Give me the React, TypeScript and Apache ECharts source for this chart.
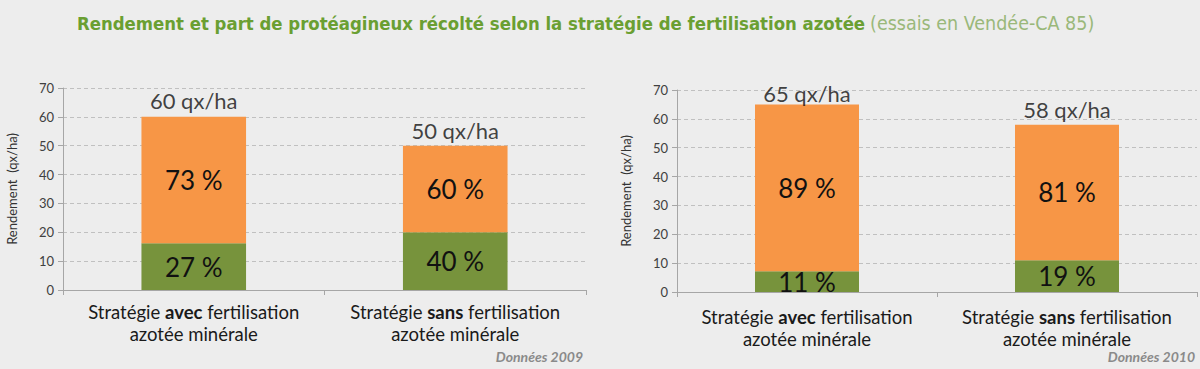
import React, { useEffect, useRef } from "react";
import * as echarts from "echarts";

const categories = [
  "Stratégie avec fertilisation azotée minérale",
  "Stratégie sans fertilisation azotée minérale",
];
const yTicks = [0, 10, 20, 30, 40, 50, 60, 70];

// 2009
const totals2009 = [60, 50];
const green2009 = [16.2, 20];
const orange2009 = [43.8, 30];
const greenPct2009 = [27, 40];
const orangePct2009 = [73, 60];

// 2010
const totals2010 = [65, 58];
const green2010 = [7.2, 11];
const orange2010 = [57.8, 47];
const greenPct2010 = [11, 19];
const orangePct2010 = [89, 81];

const GREEN = "#77933c";
const ORANGE = "#f79646";
const FONT = "Lato";

export default function App() {
  const ref = useRef<HTMLDivElement>(null);
  useEffect(() => {
    if (!ref.current) return;
    const chart = echarts.init(ref.current, null, { renderer: "svg" });

    const catFormatter = (v: string) => {
      const m = v.match(/^(\S+) (avec|sans) (\S+) (.*)$/);
      if (!m) return v;
      return `{n|${m[1]} }{b|${m[2]}}{n| ${m[3]}}\n{n|${m[4]}}`;
    };

    const xAxisBase = (gi: number, margin: number) => ({
      type: "category",
      gridIndex: gi,
      data: categories,
      axisLine: { lineStyle: { color: "#a6a6a6" } },
      axisTick: { show: true, lineStyle: { color: "#a6a6a6" }, length: 5 },
      axisLabel: {
        margin,
        formatter: catFormatter,
        rich: {
          n: { fontFamily: FONT, fontSize: 18.5, color: "#1a1a1a", lineHeight: 22 },
          b: { fontFamily: FONT, fontSize: 18.5, fontWeight: "bold", color: "#1a1a1a", lineHeight: 22 },
        },
      },
    });

    const yAxisBase = (gi: number) => ({
      type: "value",
      gridIndex: gi,
      min: yTicks[0],
      max: yTicks[yTicks.length - 1],
      interval: 10,
      name: "Rendement  (qx/ha)",
      nameLocation: "middle",
      nameGap: 45,
      nameTextStyle: { fontFamily: FONT, fontSize: 13, color: "#333" },
      axisLine: { show: true, lineStyle: { color: "#a6a6a6" } },
      axisTick: { show: true, length: 5, lineStyle: { color: "#a6a6a6" } },
      axisLabel: { fontFamily: FONT, fontSize: 13, color: "#404040", margin: 9 },
      splitLine: { show: true, lineStyle: { color: "#c0c0c0", type: [4, 3] } },
    });

    const pctLabel = (pcts: number[]) => ({
      show: true,
      position: "inside",
      fontFamily: FONT,
      fontSize: 26,
      color: "#111",
      formatter: (p: any) => `${pcts[p.dataIndex]} %`,
    });

    const barSeries = (gi: number, green: number[], orange: number[], gp: number[], op: number[]) => [
      {
        type: "bar",
        xAxisIndex: gi,
        yAxisIndex: gi,
        stack: "s" + gi,
        barWidth: "40%",
        data: green,
        itemStyle: { color: GREEN },
        label: pctLabel(gp),
      },
      {
        type: "bar",
        xAxisIndex: gi,
        yAxisIndex: gi,
        stack: "s" + gi,
        barWidth: "40%",
        data: orange,
        itemStyle: { color: ORANGE },
        label: pctLabel(op),
      },
    ];

    const totalSeries = (gi: number, totals: number[], distances: number[]) => ({
      type: "scatter",
      xAxisIndex: gi,
      yAxisIndex: gi,
      symbolSize: 0,
      silent: true,
      data: totals.map((v, i) => ({
        value: v,
        label: { distance: distances[i] },
      })),
      label: {
        show: true,
        position: "top",
        fontFamily: FONT,
        fontSize: 22,
        color: "#111",
        formatter: (p: any) => `${totals[p.dataIndex]} qx/ha`,
      },
    });

    const footnote = (text: string, right: number) => ({
      type: "text",
      right,
      top: 349,
      style: { text, fontFamily: FONT, fontStyle: "italic", fontWeight: "bold", fontSize: 14, fill: "#8a8a8a" },
    });

    chart.setOption({
      animation: false,
      backgroundColor: "#ededed",
      title: {
        text: "{b|Rendement et part de protéagineux récolté selon la stratégie de fertilisation azotée} {n|(essais en Vendée-CA 85)}",
        left: 72,
        top: 8,
        textStyle: {
          rich: {
            b: { fontFamily: "DejaVu Sans Condensed", fontWeight: "bold", fontSize: 18.4, color: "#6a9f32" },
            n: { fontFamily: "DejaVu Sans Condensed", fontWeight: "normal", fontSize: 19.5, color: "#9ab87a" },
          },
        },
      },
      grid: [
        { left: 63, right: 614, top: 88, bottom: 79 },
        { left: 677, right: 3, top: 90, bottom: 77 },
      ],
      xAxis: [xAxisBase(0, 11), xAxisBase(1, 14)],
      yAxis: [yAxisBase(0), yAxisBase(1)],
      series: [
        ...barSeries(0, green2009, orange2009, greenPct2009, orangePct2009),
        ...barSeries(1, green2010, orange2010, greenPct2010, orangePct2010),
        totalSeries(0, totals2009, [5, 4]),
        totalSeries(1, totals2010, [0, 4]),
      ],
      graphic: [footnote("Données 2009", 1200 - 583), footnote("Données 2010", 5)],
    });
    return () => chart.dispose();
  }, []);

  return (
    <div
      ref={ref}
      style={{ position: "absolute", left: 0, top: 0, width: 1200, height: 369 }}
    />
  );
}
